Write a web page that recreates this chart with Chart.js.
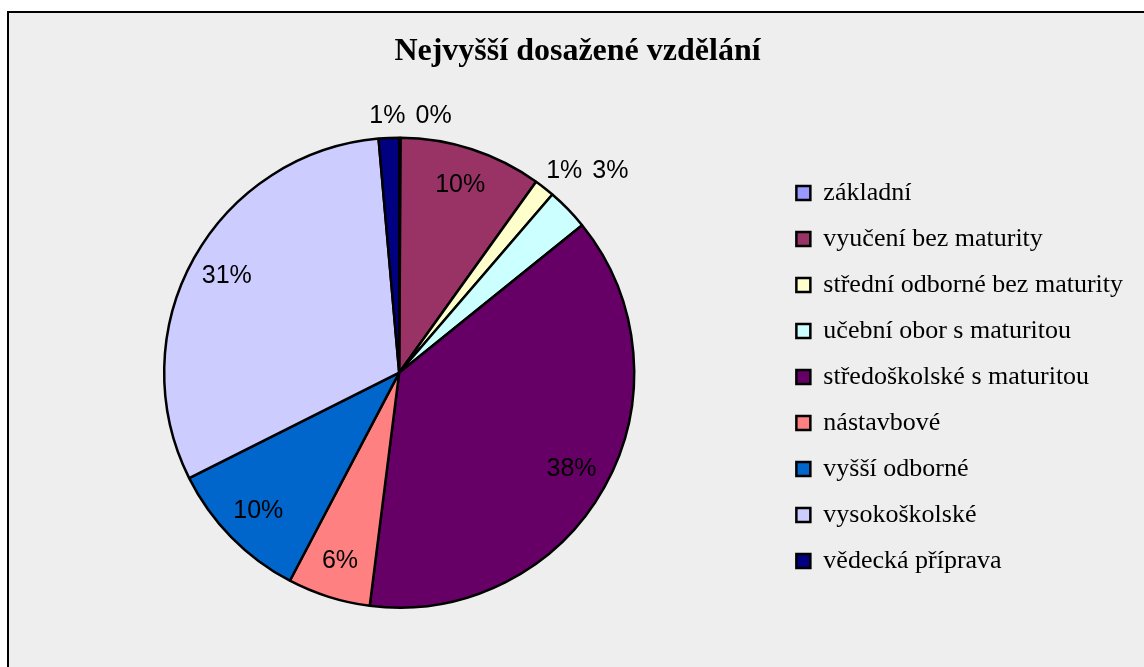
<!DOCTYPE html>
<html lang="cs">
<head>
<meta charset="utf-8">
<title>Nejvyšší dosažené vzdělání</title>
<script src="https://cdn.jsdelivr.net/npm/chart.js@4/dist/chart.umd.min.js"></script>
<style>
  html, body { margin: 0; padding: 0; background: #fff; overflow: hidden; }
  #frame {
    position: absolute;
    left: 7px;
    top: 11px;
    width: 1146px;
    height: 660px;
    border: 2px solid #000;
    background: #eeeeee;
  }
  #chart { display: block; }
</style>
</head>
<body>
<div id="frame">
  <canvas id="chart" width="1146" height="660"></canvas>
</div>
<script>
// data
const categories = [
  'základní',
  'vyučení bez maturity',
  'střední odborné bez maturity',
  'učební obor s maturitou',
  'středoškolské s maturitou',
  'nástavbové',
  'vyšší odborné',
  'vysokoškolské',
  'vědecká příprava'
]
const shares = [0.1, 9.8, 1.4, 2.9, 37.8, 5.7, 9.9, 31.0, 1.4]
const colors = ['#9999ff', '#993366', '#ffffcc', '#ccffff', '#660066', '#ff8080', '#0066cc', '#ccccff', '#000080']
const chartTitle = 'Nejvyšší dosažené vzdělání'

const serif = "'Times New Roman', 'Liberation Serif', serif"
const sans = "Arial, 'Liberation Sans', sans-serif"

// percent labels, small slices go outside the pie
const pctLabels = {
  id: 'pctLabels',
  afterDatasetsDraw(chart) {
    const ctx = chart.ctx
    const meta = chart.getDatasetMeta(0)
    const total = shares.reduce((a, b) => a + b, 0)
    const fontSize = 25
    ctx.save()
    ctx.font = fontSize + 'px ' + sans
    ctx.fillStyle = '#000'
    ctx.textAlign = 'center'
    ctx.textBaseline = 'middle'

    const outside = []
    meta.data.forEach((arc, i) => {
      const p = arc.getProps(['x', 'y', 'startAngle', 'endAngle', 'outerRadius'], true)
      const mid = (p.startAngle + p.endAngle) / 2
      const text = Math.round(shares[i] / total * 100) + '%'
      const w = ctx.measureText(text).width
      const cos = Math.cos(mid)
      const sin = Math.sin(mid)
      if (shares[i] / total >= 0.05) {
        const r = p.outerRadius * 0.84
        ctx.fillText(text, p.x + cos * r, p.y + sin * r)
      } else {
        const r = p.outerRadius + 14
        outside.push({
          text, w, h: fontSize,
          side: cos >= 0 ? 1 : -1,
          cx: p.x + cos * r + cos * w / 2,
          cy: p.y + sin * r + sin * 8
        })
      }
    })

    // left side first, then right side; a label that overlaps one
    // already placed goes next to it on the same row
    const order = outside.filter(l => l.side < 0).concat(outside.filter(l => l.side > 0))
    const placed = []
    const gap = 10
    const hits = (a, b) =>
      Math.abs(a.cx - b.cx) < (a.w + b.w) / 2 + gap &&
      Math.abs(a.cy - b.cy) < (a.h + b.h) / 2
    order.forEach(l => {
      let guard = 0
      let o = placed.find(q => hits(l, q))
      while (o && guard < 10) {
        l.cy = o.cy
        l.cx = o.cx + l.side * ((o.w + l.w) / 2 + gap)
        o = placed.find(q => hits(l, q))
        guard++
      }
      placed.push(l)
      ctx.fillText(l.text, l.cx, l.cy)
    })
    ctx.restore()
  }
}

const ctx = document.getElementById('chart').getContext('2d')
new Chart(ctx, {
  type: 'pie',
  data: {
    labels: categories,
    datasets: [{
      data: shares,
      backgroundColor: colors,
      borderColor: '#000',
      borderWidth: 2.5,
      radius: 235
    }]
  },
  options: {
    responsive: false,
    animation: false,
    devicePixelRatio: 1,
    events: [],
    layout: {
      padding: { left: 13, right: 22, top: 0, bottom: 9 }
    },
    plugins: {
      title: {
        display: true,
        text: chartTitle,
        color: '#000',
        font: { family: serif, size: 32, weight: 'bold', lineHeight: 1.2 },
        padding: { top: 20, bottom: 10 }
      },
      legend: {
        position: 'right',
        fullSize: false,
        align: 'center',
        title: {
          display: true,
          text: ' ',
          font: { size: 2 },
          padding: { top: 0, bottom: 6 }
        },
        labels: {
          boxWidth: 14,
          boxHeight: 14,
          padding: 20,
          color: '#000',
          font: { family: serif, size: 26 }
        }
      },
      tooltip: { enabled: false }
    }
  },
  plugins: [pctLabels]
})
</script>
</body>
</html>
